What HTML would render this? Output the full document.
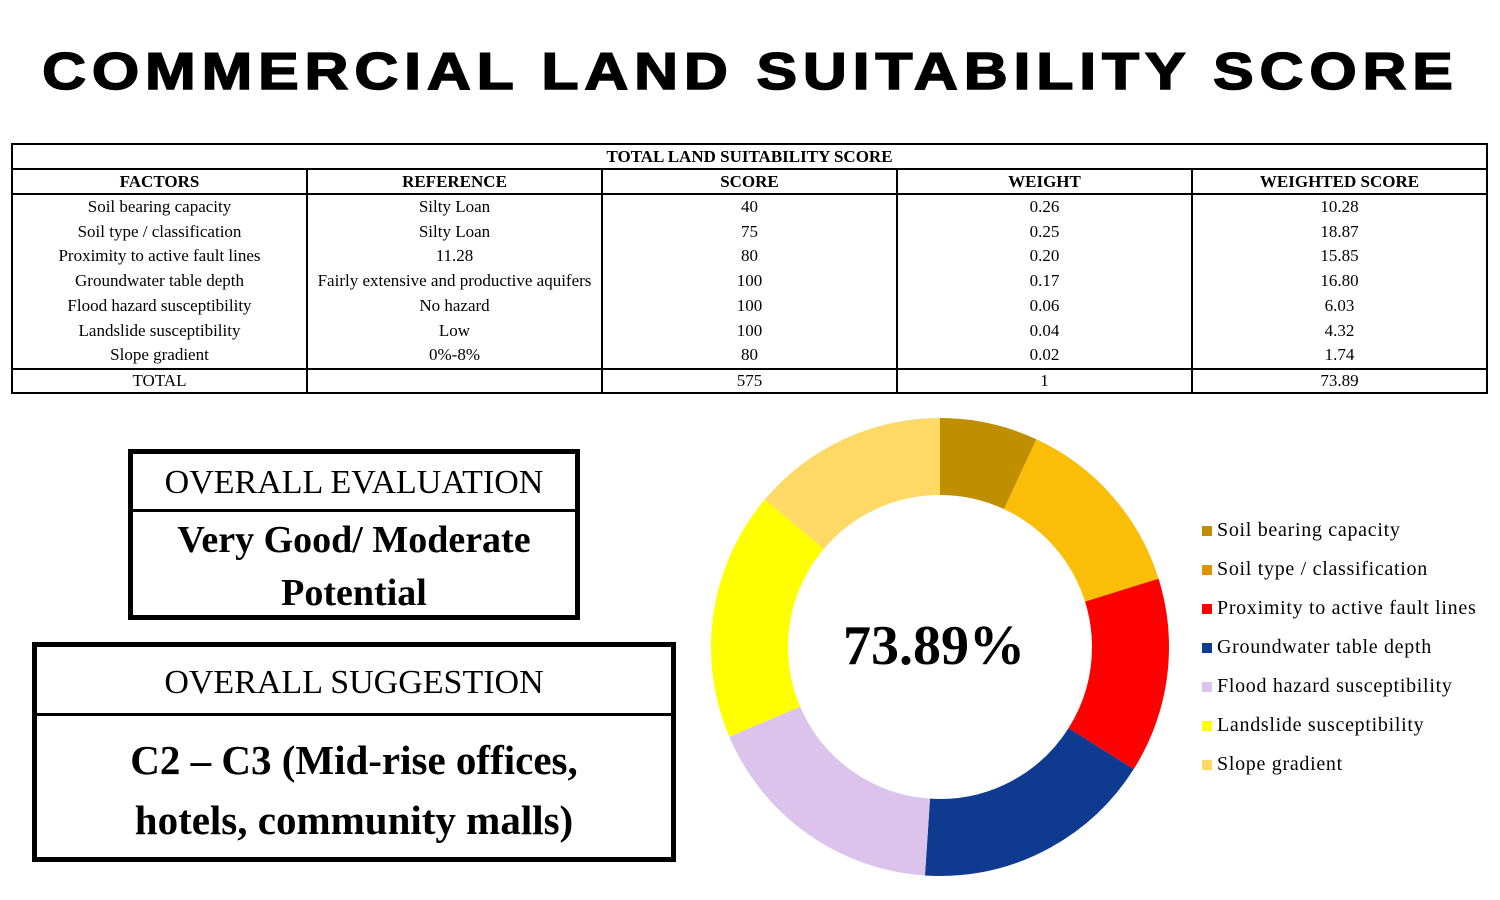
<!DOCTYPE html>
<html><head><meta charset="utf-8"><style>
body{margin:0;width:1500px;height:900px;background:#fff;position:relative;overflow:hidden;font-family:"Liberation Serif",serif;color:#000}
.title{position:absolute;left:0;top:42px;width:1500px;text-align:center;font-family:"Liberation Sans",sans-serif;font-weight:900;font-size:52px;letter-spacing:5px;white-space:nowrap}
.title span{display:inline-block;transform:scaleX(1.17);transform-origin:center;-webkit-text-stroke:1.5px #000}
table{position:absolute;left:11px;top:143px;width:1477px;border-collapse:collapse;font-size:17px;table-layout:fixed}
td,th{border-left:2px solid #000;border-right:2px solid #000;text-align:center;padding:0;line-height:24.7px;height:24.7px;white-space:nowrap;overflow:visible}
th{font-weight:bold;border-bottom:2px solid #000;border-top:2px solid #000;height:23px;line-height:23px}
tr.tot td{border-top:2px solid #000;border-bottom:2px solid #000;height:22px;line-height:22px}
.box{position:absolute;border:5px solid #000;box-sizing:border-box;text-align:center}
.hd{border-bottom:3px solid #000;font-size:34px}
.bd{font-weight:bold}
.leg{position:absolute;left:1202px;font-size:20px;line-height:20px;letter-spacing:0.7px}
.leg i{display:inline-block;width:10px;height:10px;margin-right:5px;vertical-align:0}
</style></head><body>
<div class="title"><span>COMMERCIAL LAND SUITABILITY SCORE</span></div>
<table>
<tr><th colspan="5">TOTAL LAND SUITABILITY SCORE</th></tr>
<tr><th>FACTORS</th><th>REFERENCE</th><th>SCORE</th><th>WEIGHT</th><th>WEIGHTED SCORE</th></tr>
<tr><td>Soil bearing capacity</td><td>Silty Loan</td><td>40</td><td>0.26</td><td>10.28</td></tr>
<tr><td>Soil type / classification</td><td>Silty Loan</td><td>75</td><td>0.25</td><td>18.87</td></tr>
<tr><td>Proximity to active fault lines</td><td>11.28</td><td>80</td><td>0.20</td><td>15.85</td></tr>
<tr><td>Groundwater table depth</td><td>Fairly extensive and productive aquifers</td><td>100</td><td>0.17</td><td>16.80</td></tr>
<tr><td>Flood hazard susceptibility</td><td>No hazard</td><td>100</td><td>0.06</td><td>6.03</td></tr>
<tr><td>Landslide susceptibility</td><td>Low</td><td>100</td><td>0.04</td><td>4.32</td></tr>
<tr><td>Slope gradient</td><td>0%-8%</td><td>80</td><td>0.02</td><td>1.74</td></tr>
<tr class="tot"><td>TOTAL</td><td></td><td>575</td><td>1</td><td>73.89</td></tr>
</table>

<div class="box" style="left:128px;top:449px;width:452px;height:171px">
<div class="hd" style="height:55px;line-height:58px">OVERALL EVALUATION</div>
<div class="bd" style="font-size:38px;line-height:53px;padding-top:2px">Very Good/ Moderate<br>Potential</div>
</div>
<div class="box" style="left:32px;top:642px;width:644px;height:220px">
<div class="hd" style="height:66px;line-height:72px">OVERALL SUGGESTION</div>
<div class="bd" style="font-size:41px;line-height:60px;padding-top:14px">C2 – C3 (Mid-rise offices,<br>hotels, community malls)</div>
</div>

<svg style="position:absolute;left:0;top:0" width="1500" height="900">
<g transform="rotate(-90 940 647)" fill="none" stroke-width="77">
<circle cx="940" cy="647" r="190.5" stroke="#BF8F00" stroke-dasharray="82.8 1200" stroke-dashoffset="0"/>
<circle cx="940" cy="647" r="190.5" stroke="#FABD08" stroke-dasharray="158.6 1200" stroke-dashoffset="-82.8"/>
<circle cx="940" cy="647" r="190.5" stroke="#FF0000" stroke-dasharray="164.9 1200" stroke-dashoffset="-241.4"/>
<circle cx="940" cy="647" r="190.5" stroke="#0E3A8F" stroke-dasharray="204.5 1200" stroke-dashoffset="-406.3"/>
<circle cx="940" cy="647" r="190.5" stroke="#DCC3EB" stroke-dasharray="209.8 1200" stroke-dashoffset="-610.8"/>
<circle cx="940" cy="647" r="190.5" stroke="#FFFF00" stroke-dasharray="210.1 1200" stroke-dashoffset="-820.6"/>
<circle cx="940" cy="647" r="190.5" stroke="#FED966" stroke-dasharray="166.3 1200" stroke-dashoffset="-1030.7"/>
</g>
<text x="934" y="664" text-anchor="middle" font-family="Liberation Serif, serif" font-weight="bold" font-size="56">73.89%</text>
</svg>

<div class="leg" style="top:520px"><i style="background:#BF8F00"></i>Soil bearing capacity</div>
<div class="leg" style="top:559px"><i style="background:#DF9208"></i>Soil type / classification</div>
<div class="leg" style="top:598px"><i style="background:#FF0000"></i>Proximity to active fault lines</div>
<div class="leg" style="top:637px"><i style="background:#0E3A8F"></i>Groundwater table depth</div>
<div class="leg" style="top:676px"><i style="background:#DCC3EB"></i>Flood hazard susceptibility</div>
<div class="leg" style="top:715px"><i style="background:#FFFF00"></i>Landslide susceptibility</div>
<div class="leg" style="top:754px"><i style="background:#FED966"></i>Slope gradient</div>
</body></html>
